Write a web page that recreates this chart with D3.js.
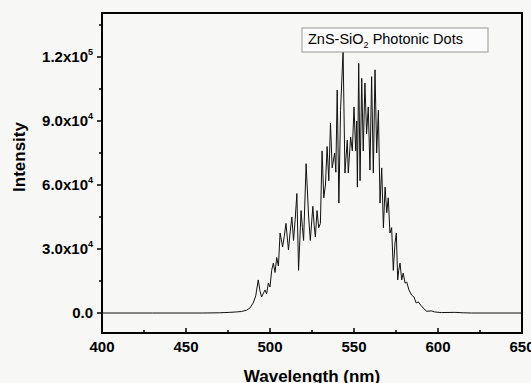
<!DOCTYPE html>
<html>
<head>
<meta charset="utf-8">
<script src="https://cdn.jsdelivr.net/npm/d3@7"></script>
<style>
  body { margin: 0; background: #f7f7f5; }
  svg { display: block; }
  text { font-family: Arial, "Liberation Sans", sans-serif; }
</style>
</head>
<body>
<svg id="chart" width="531" height="383"></svg>
<script>
// PL spectrum (nm, counts)
var wavelength = [400, 430, 460, 470, 476, 480, 483, 486, 488, 490, 491.5, 493, 494, 495, 496.2, 497, 498, 499,
  500, 501, 502, 503, 504, 505, 506, 507.5, 508.5, 509.5, 511, 512, 513, 514, 515, 516, 517, 518.5, 519.3,
  520, 521.5, 523, 524, 525.5, 526.3, 527, 528, 529, 530, 531, 532, 533, 534, 535, 536, 537, 538.5, 539.2,
  540, 541, 542, 543.5, 544.6, 546, 546.6, 548, 549, 550, 551, 551.6, 552, 552.8, 553.6, 554.6, 555.5, 556.5,
  557.5, 558.5, 559.5, 560.5, 561.5, 562.5, 563.5, 564.5, 565.5, 566.5, 567.5, 568.5, 569.5, 570.4, 571.4,
  572.4, 573.4, 574.4, 575.2, 576, 576.6, 577.4, 578.4, 579.3, 580.4, 581.4, 582.7, 584.3, 585.7, 587, 588.3,
  589.7, 591.2, 593.3, 596, 598, 602, 610, 615, 620, 650];
var intensity = [0, 0, 0, 100, 300, 500, 700, 1300, 2300, 4700, 8000, 15500, 10500, 7500, 9500, 10800, 9000, 14000,
  12200, 20000, 23400, 19000, 26000, 22000, 37500, 31000, 36000, 42000, 29500, 38000, 45000, 34000, 44000, 56000, 20000, 48000, 40000,
  34000, 70000, 45000, 34000, 50000, 41000, 35600, 48000, 40000, 42000, 76000, 54000, 60000, 78000, 62000, 89000, 68000, 75000, 66000,
  104500, 51500, 95000, 123000, 65600, 81000, 65600, 82500, 76000, 96600, 76000, 90000, 59000, 117000, 62000, 110000, 76000, 107800,
  84000, 96600, 67000, 110800, 65600, 114000, 75000, 95000, 51500, 68000, 40000, 59000, 47000, 54000, 37500,
  40000, 20000, 32800, 37500, 15500, 20000, 23400, 15500, 18700, 14000, 14500, 10800, 8400, 7500, 4700, 5200,
  3700, 2300, 800, 1000, 500, 200, 300, 100, 0, 0];

var xMajor = [400, 450, 500, 550, 600, 650];
var xMinor = [425, 475, 525, 575, 625];
var yMajor = [0, 30000, 60000, 90000, 120000];
var yMinor = [15000, 45000, 75000, 105000, 135000];
var yMantissa = ["0.0", "3.0", "6.0", "9.0", "1.2"];
var yExponent = ["", "4", "4", "4", "5"];

var svg = d3.select("#chart");
var pLeft = 102, pRight = 522, pTop = 13, pBottom = 333;

var x = d3.scaleLinear().domain([400, 650]).range([pLeft, pRight]);
var y = d3.scaleLinear().domain([-9375, 140625]).range([pBottom, pTop]);

// spectrum
var line = d3.line()
  .x(function(d, i) { return x(wavelength[i]); })
  .y(function(d) { return y(d); });

svg.append("path")
  .datum(intensity)
  .attr("d", line)
  .attr("fill", "none")
  .attr("stroke", "#111")
  .attr("stroke-width", 1)
  .attr("stroke-linejoin", "round");

// x ticks point inward
svg.selectAll(".xt").data(xMajor).enter().append("line")
  .attr("x1", function(d) { return x(d); }).attr("x2", function(d) { return x(d); })
  .attr("y1", pBottom).attr("y2", pBottom - 5)
  .attr("stroke", "#000").attr("stroke-width", 1.5);
svg.selectAll(".xm").data(xMinor).enter().append("line")
  .attr("x1", function(d) { return x(d); }).attr("x2", function(d) { return x(d); })
  .attr("y1", pBottom).attr("y2", pBottom - 3)
  .attr("stroke", "#000").attr("stroke-width", 1.5);
svg.selectAll(".xl").data(xMajor).enter().append("text")
  .attr("x", function(d) { return x(d); })
  .attr("y", 352)
  .attr("text-anchor", "middle")
  .attr("font-size", 15).attr("font-weight", "bold")
  .text(function(d) { return d; });

// y ticks point outward
svg.selectAll(".yt").data(yMajor).enter().append("line")
  .attr("x1", pLeft).attr("x2", pLeft - 5)
  .attr("y1", function(d) { return y(d); }).attr("y2", function(d) { return y(d); })
  .attr("stroke", "#000").attr("stroke-width", 1.5);
svg.selectAll(".ym").data(yMinor).enter().append("line")
  .attr("x1", pLeft).attr("x2", pLeft - 3)
  .attr("y1", function(d) { return y(d); }).attr("y2", function(d) { return y(d); })
  .attr("stroke", "#000").attr("stroke-width", 1.5);

var yl = svg.selectAll(".yl").data(yMajor).enter().append("text")
  .attr("x", 93)
  .attr("y", function(d) { return y(d) + 5; })
  .attr("text-anchor", "end")
  .attr("font-size", 15).attr("font-weight", "bold");
yl.append("tspan").text(function(d, i) { return yMantissa[i] + (yExponent[i] ? "x10" : ""); });
yl.append("tspan")
  .attr("font-size", 9).attr("dy", -7)
  .text(function(d, i) { return yExponent[i]; });

// frame
svg.append("rect")
  .attr("x", pLeft).attr("y", pTop)
  .attr("width", pRight - pLeft).attr("height", pBottom - pTop)
  .attr("fill", "none").attr("stroke", "#000").attr("stroke-width", 2);

// axis titles
svg.append("text")
  .attr("transform", "translate(25," + ((pTop + pBottom) / 2 - 16) + ") rotate(-90)")
  .attr("text-anchor", "middle")
  .attr("font-size", 17).attr("font-weight", "bold")
  .text("Intensity");
svg.append("text")
  .attr("x", 312).attr("y", 382)
  .attr("text-anchor", "middle")
  .attr("font-size", 17).attr("font-weight", "bold")
  .text("Wavelength (nm)");

// legend box
svg.append("rect")
  .attr("x", 302).attr("y", 28).attr("width", 186).attr("height", 24)
  .attr("fill", "#fbfbfb").attr("stroke", "#999").attr("stroke-width", 1);
var lg = svg.append("text")
  .attr("x", 308).attr("y", 44)
  .attr("font-size", 14.5);
lg.append("tspan").text("ZnS-SiO");
lg.append("tspan").attr("font-size", 9).attr("dy", 4).text("2");
lg.append("tspan").attr("dy", -4).text(" Photonic Dots");
</script>
</body>
</html>
